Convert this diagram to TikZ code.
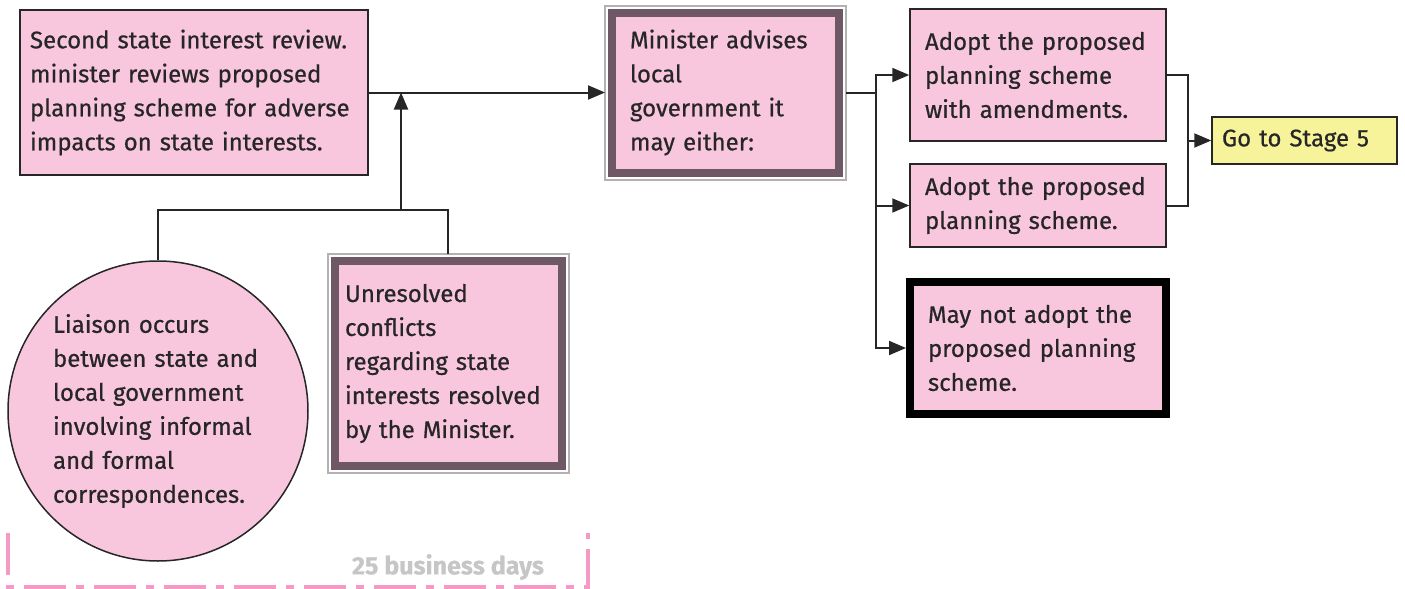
\documentclass[tikz,border=0pt]{standalone}
\usepackage{fontspec}
\setmainfont{Fira Sans}[FakeBold=0.6]
\usetikzlibrary{arrows.meta}
\definecolor{boxpink}{HTML}{F8C6DD}
\definecolor{boxyellow}{HTML}{F6F39A}
\definecolor{framemauve}{HTML}{6E5866}
\definecolor{dashpink}{HTML}{F49AC4}
\definecolor{inkgray}{HTML}{262626}
\tikzset{
  box/.style={draw=inkgray,fill=boxpink,line width=0.75pt,text=inkgray,align=left,
    font=\fontsize{12}{17}\selectfont,inner ysep=2pt},
  framed/.style={box,draw=framemauve,line width=4pt,outer sep=3.5pt},
  heavy/.style={box,draw=black,line width=4pt},
  link/.style={draw=inkgray,line width=1pt},
  arr/.style={link,-{Triangle[length=8.5pt,width=7pt]}},
}
\begin{document}
\begin{tikzpicture}[x=0.5pt,y=-0.5pt]
        \useasboundingbox (0,0) rectangle (1405,589);
        %% Review, liaison and conflicts
        \node[box,text width=164pt,inner xsep=5pt,minimum height=82.5pt] (review) at (194,92.5)
            {Second state interest review.\\ minister reviews proposed\\ planning scheme for adverse\\ impacts on state interests.};
        \node[box,circle,inner sep=0pt,minimum size=150pt,text width=105pt] (liaison) at (158,411)
            {Liaison occurs\\ between state and\\ local government\\ involving informal\\ and formal\\ correspondences.};
        \node[framed,text width=103pt,inner xsep=5.25pt,minimum height=102.5pt] (unres) at (448,363.5)
            {Unresolved\\ conflicts\\ regarding state\\ interests resolved\\ by the Minister.};
        \draw[gray!60,line width=1pt] (unres.north west) rectangle (unres.south east);
        %% Minister
        \node[framed,text width=95.5pt,inner xsep=9pt,minimum height=80pt] (minister) at (725.5,92.5)
            {Minister advises\\ local\\ government it\\ may either:};
        \draw[gray!60,line width=1pt] (minister.north west) rectangle (minister.south east);
        %% Options
        \node[box,text width=113pt,inner xsep=7.5pt,minimum height=66pt] (amend) at (1038,75)
            {Adopt the proposed\\ planning scheme\\ with amendments.};
        \node[box,text width=113pt,inner xsep=7.5pt,minimum height=41.5pt] (adopt) at (1038,205.5)
            {Adopt the proposed\\ planning scheme.};
        \node[heavy,text width=110pt,inner xsep=9pt,minimum height=66pt] (notadopt) at (1038,348)
            {May not adopt the\\ proposed planning\\ scheme.};
        \node[box,fill=boxyellow,text width=82.5pt,inner xsep=5pt,minimum height=23.5pt] (stage) at (1304.5,140.5)
            {Go to Stage 5};
        %% Connectors
        \coordinate (join) at (401,210);
        \coordinate (split) at (876,92.5);
        \coordinate (merge) at (1188,140.5);
        \draw[arr] (review.east) -- (minister.west);
        \draw[link] (liaison.north) |- (join) -| (unres.north);
        \draw[arr] (join) -- (join |- review.east);
        \draw[link] (minister.east) -- (split);
        \foreach \b in {amend, adopt, notadopt} {
            \draw[arr] (split) |- (\b.west);
        }
        \draw[link] (amend.east) -| (merge) |- (adopt.east);
        \draw[arr] (merge) -- (stage.west);
        %% 25 business days
        \draw[dashpink,line width=2.2pt,dash pattern=on 21pt off 5pt on 4pt off 5pt]
            (8,533) -- (8,587) -- (588,587) -- (588,533);
        \node[anchor=east,text=gray!45,font=\fontsize{12.5}{14}\selectfont\bfseries] (days) at (551,567) {25 business days};
\end{tikzpicture}
\end{document}
